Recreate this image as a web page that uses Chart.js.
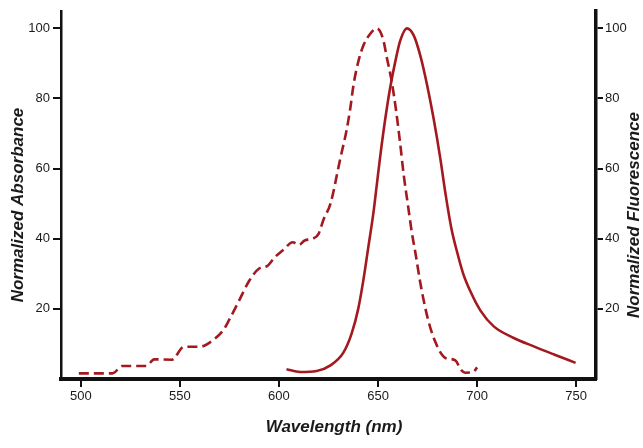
<!DOCTYPE html>
<html>
<head>
<meta charset="utf-8">
<script src="https://cdn.jsdelivr.net/npm/chart.js@4/dist/chart.umd.min.js"></script>
<style>
  html, body { margin: 0; padding: 0; background: #ffffff; }
  #wrap { width: 643px; height: 448px; }
</style>
</head>
<body>
<div id="wrap"><canvas id="c" width="643" height="448"></canvas></div>
<script>
// ---- data ----
const wavelengthTicks = [500, 550, 600, 650, 700, 750];
const intensityTicks = [20, 40, 60, 80, 100];

const absWavelength = [499, 516, 521, 533, 537, 546, 552, 560, 567, 572, 575, 580, 585, 590, 594, 598, 602, 607, 610, 613, 617, 620, 622.5, 626, 631, 634, 636, 637.6, 640, 642.6, 646, 649.4, 652.5, 654.5, 657, 659, 661, 663, 665, 667, 669, 671, 673, 675, 677, 679, 681, 684, 689, 692, 694, 698, 700];
const absValues     = [1.6, 1.6, 3.7, 3.7, 5.6, 5.5, 9.2, 9.2, 11.2, 14, 17, 22.5, 28, 31.5, 32.2, 34.8, 36.7, 39, 38.2, 39.5, 40, 41.4, 45.5, 50, 63, 70.6, 77.2, 83.8, 90.4, 95.1, 98.4, 100, 97, 91.5, 84.5, 77, 68, 58, 50, 42, 35.5, 28.5, 22.5, 17.5, 13.5, 10.5, 8, 6, 5.3, 2.5, 1.8, 2.0, 3.3];

const fluWavelength = [603.8, 610.6, 619, 626, 632.5, 636.7, 640, 642.6, 645.1, 647.7, 649.4, 651.1, 653.6, 656.1, 658.7, 661.2, 664.6, 668, 671.3, 674.7, 678, 681.4, 684, 687, 690, 693, 696.6, 701.7, 708.4, 718.5, 728.6, 738.8, 749.7];
const fluValues     = [2.8, 2.0, 2.3, 3.9, 7.5, 13, 20, 28.2, 37.6, 47.5, 55.5, 63.5, 74, 83, 90.5, 96.5, 100, 98, 92.3, 84, 74.4, 63, 53, 43, 36, 30, 25, 19.5, 15, 11.7, 9.3, 7, 4.6];

const xTitle = 'Wavelength (nm)';
const yLeftTitle = 'Normalized Absorbance';
const yRightTitle = 'Normalized Fluorescence';

// ---- chart ----
const lineColor = '#a3191f';
const inkColor = '#1a1a1a';
const fontFamily = '"Liberation Sans", Arial, Helvetica, sans-serif';

const toPoints = (xs, ys) => xs.map((x, i) => ({ x: x, y: ys[i] }));

const titlePlugin = {
  id: 'axisTitles',
  afterDraw(chart) {
    const ctx = chart.ctx;
    ctx.save();
    ctx.fillStyle = inkColor;
    ctx.font = 'italic bold 17px ' + fontFamily;
    ctx.textAlign = 'center';
    ctx.textBaseline = 'middle';
    ctx.fillText(xTitle, 334, 427);
    ctx.translate(18, 205);
    ctx.rotate(-Math.PI / 2);
    ctx.fillText(yLeftTitle, 0, 0);
    ctx.restore();
    ctx.save();
    ctx.fillStyle = inkColor;
    ctx.font = 'italic bold 17px ' + fontFamily;
    ctx.textAlign = 'center';
    ctx.textBaseline = 'middle';
    ctx.translate(634, 215);
    ctx.rotate(-Math.PI / 2);
    ctx.fillText(yRightTitle, 0, 0);
    ctx.restore();
  }
};

const tickFont = { family: fontFamily, size: 13 };
const setTicks = (vals) => (scale) => { scale.ticks = vals.map(v => ({ value: v })); };

new Chart(document.getElementById('c'), {
  type: 'line',
  data: {
    datasets: [
      {
        label: 'Absorbance',
        data: toPoints(absWavelength, absValues),
        yAxisID: 'y',
        borderColor: lineColor,
        borderWidth: 2.6,
        borderDash: [10, 5],
        pointRadius: 0,
        cubicInterpolationMode: 'monotone',
        fill: false
      },
      {
        label: 'Fluorescence',
        data: toPoints(fluWavelength, fluValues),
        yAxisID: 'y2',
        borderColor: lineColor,
        borderWidth: 2.6,
        pointRadius: 0,
        cubicInterpolationMode: 'monotone',
        fill: false
      }
    ]
  },
  options: {
    responsive: false,
    animation: false,
    devicePixelRatio: 1,
    layout: { padding: { top: 7, left: 0, right: 0, bottom: 0 } },
    plugins: { legend: { display: false }, tooltip: { enabled: false } },
    scales: {
      x: {
        type: 'linear',
        position: 'bottom',
        min: 490,
        max: 760,
        afterFit(s) { s.height = 69; },
        afterBuildTicks: setTicks(wavelengthTicks),
        ticks: { font: tickFont, color: inkColor, padding: 2, maxRotation: 0, autoSkip: false },
        grid: { drawOnChartArea: false, drawTicks: true, tickLength: 8, color: '#111', lineWidth: 2 },
        border: { display: true, color: '#111', width: 4 }
      },
      y: {
        type: 'linear',
        position: 'left',
        min: 0,
        max: 105,
        afterFit(s) { s.width = 61; },
        afterBuildTicks: setTicks(intensityTicks),
        ticks: { font: tickFont, color: inkColor, padding: 3 },
        grid: { drawOnChartArea: false, drawTicks: true, tickLength: 8, color: '#111', lineWidth: 2 },
        border: { display: true, color: '#111', width: 2.5 }
      },
      y2: {
        type: 'linear',
        position: 'right',
        min: 0,
        max: 105,
        afterFit(s) { s.width = 47; },
        afterBuildTicks: setTicks(intensityTicks),
        ticks: { font: tickFont, color: inkColor, padding: 2 },
        grid: { drawOnChartArea: false, drawTicks: true, tickLength: 7, color: '#111', lineWidth: 2 },
        border: { display: true, color: '#111', width: 3.5 }
      }
    }
  },
  plugins: [titlePlugin]
});
</script>
</body>
</html>
